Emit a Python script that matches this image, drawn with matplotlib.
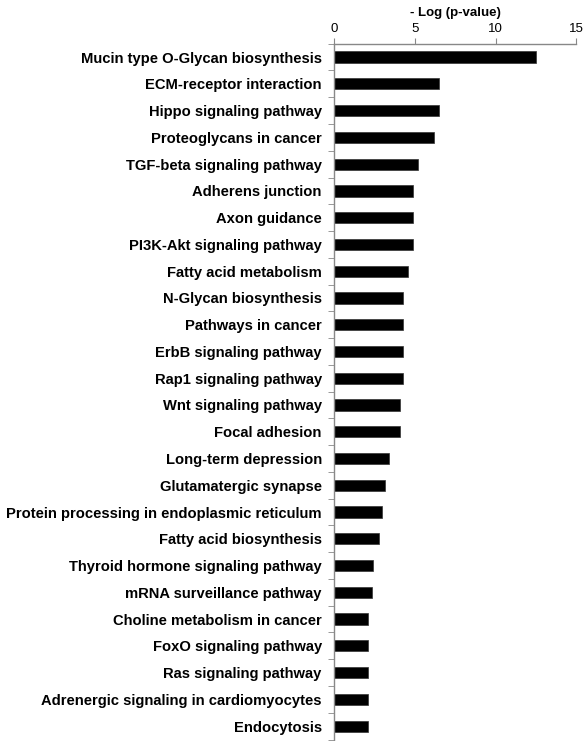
import numpy as np
import matplotlib
matplotlib.use("Agg")
import matplotlib.pyplot as plt

pathways = [
    "Mucin type O-Glycan biosynthesis",
    "ECM-receptor interaction",
    "Hippo signaling pathway",
    "Proteoglycans in cancer",
    "TGF-beta signaling pathway",
    "Adherens junction",
    "Axon guidance",
    "PI3K-Akt signaling pathway",
    "Fatty acid metabolism",
    "N-Glycan biosynthesis",
    "Pathways in cancer",
    "ErbB signaling pathway",
    "Rap1 signaling pathway",
    "Wnt signaling pathway",
    "Focal adhesion",
    "Long-term depression",
    "Glutamatergic synapse",
    "Protein processing in endoplasmic reticulum",
    "Fatty acid biosynthesis",
    "Thyroid hormone signaling pathway",
    "mRNA surveillance pathway",
    "Choline metabolism in cancer",
    "FoxO signaling pathway",
    "Ras signaling pathway",
    "Adrenergic signaling in cardiomyocytes",
    "Endocytosis",
]
neg_log_p = [12.53, 6.47, 6.47, 6.18, 5.17, 4.86, 4.86, 4.86, 4.57, 4.26,
             4.26, 4.26, 4.26, 4.06, 4.06, 3.40, 3.13, 2.97, 2.80, 2.37,
             2.33, 2.10, 2.10, 2.10, 2.10, 2.10]
xticks = [0, 5, 10, 15]

plt.rcParams['font.family'] = ['Liberation Sans', 'DejaVu Sans']

fig = plt.figure(figsize=(5.84, 7.41), dpi=100)
ax = fig.add_axes([0.5725, 0.002, 0.414, 0.939])

y = np.arange(len(pathways))
ax.barh(y, neg_log_p, height=0.42, color='black', edgecolor='#333333', linewidth=0.5)
ax.set_ylim(len(pathways) - 0.5, -0.5)
ax.set_xlim(0, 15)

ax.xaxis.tick_top()
ax.xaxis.set_label_position('top')
ax.set_xticks(xticks)
ax.set_xticklabels([str(t) for t in xticks], fontsize=9.5)
ax.set_xlabel("- Log (p-value)", fontsize=9.5, fontweight='bold', labelpad=5)

ax.set_yticks(y)
ax.set_yticklabels(pathways, fontsize=10.6, fontweight='bold')
ax.set_yticks(np.arange(len(pathways) + 1) - 0.5, minor=True)
ax.tick_params(axis='y', which='major', length=0, pad=9)
ax.tick_params(axis='y', which='minor', length=4, color='#888888', direction='out')
ax.tick_params(axis='x', length=4, color='#888888', direction='out', pad=2)

for side in ['right', 'bottom']:
    ax.spines[side].set_visible(False)
for side in ['left', 'top']:
    ax.spines[side].set_color('#888888')
    ax.spines[side].set_linewidth(1)

fig.savefig("out.png", dpi=100)
